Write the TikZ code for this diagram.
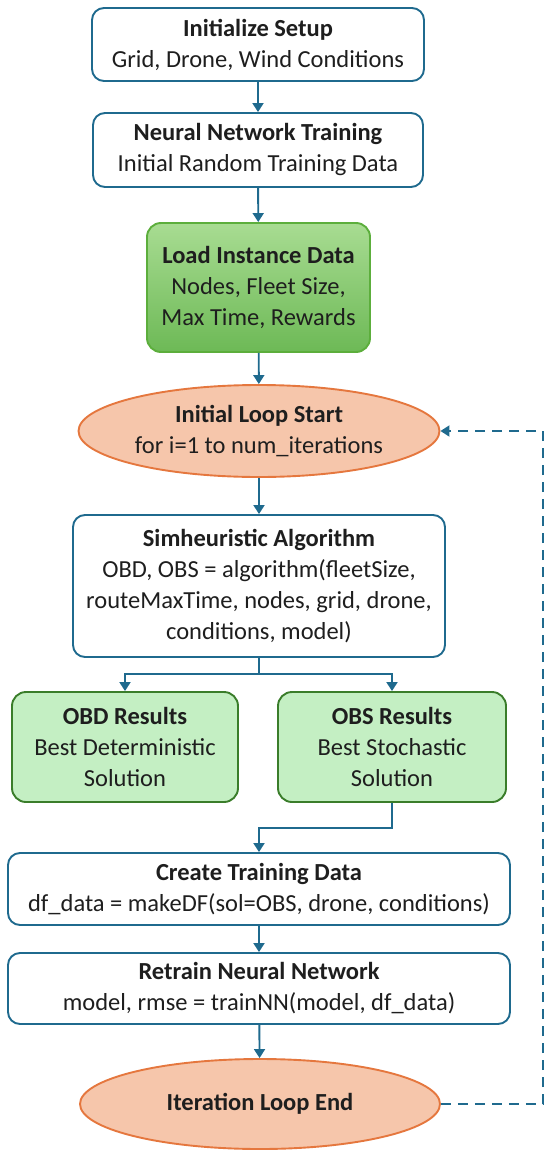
\documentclass[tikz,border=0pt]{standalone}
\usepackage{fontspec}
\setmainfont{Carlito}
\usetikzlibrary{shapes.geometric,arrows.meta}

\definecolor{flowblue}{HTML}{1F6A8E}
\definecolor{loadtop}{HTML}{A8DC92}
\definecolor{loadbot}{HTML}{6DB956}
\definecolor{loadline}{HTML}{5CAE3C}
\definecolor{resfill}{HTML}{C4EFC3}
\definecolor{resline}{HTML}{3A7D2A}
\definecolor{loopfill}{HTML}{F6C6AB}
\definecolor{loopline}{HTML}{E5773E}
\definecolor{txt}{HTML}{1E1E1E}

\tikzset{
    boxfont/.style={font=\fontsize{24.5}{31}\selectfont, text=txt, align=center},
    stepbox/.style={boxfont, draw=flowblue, line width=1.9pt, rounded corners=12pt, fill=white, inner sep=0pt},
    loadbox/.style={boxfont, draw=loadline, line width=1.9pt, rounded corners=14pt, top color=loadtop, bottom color=loadbot, inner sep=0pt},
    resbox/.style={boxfont, draw=resline, line width=1.9pt, rounded corners=14pt, fill=resfill, inner sep=0pt},
    loopnode/.style={boxfont, ellipse, draw=loopline, line width=1.9pt, fill=loopfill, inner sep=0pt},
    flow/.style={draw=flowblue, line width=1.9pt, -{Triangle[length=9pt,width=11pt]}},
    backflow/.style={flow, dash pattern=on 10pt off 7pt},
}

\begin{document}
\begin{tikzpicture}[x=1pt,y=-1pt]
    \useasboundingbox (0,0) rectangle (550,1156);

    % main column
    \node[stepbox, minimum width=332pt, minimum height=73pt] (init) at (258,44.5)
        {\textbf{Initialize Setup}\\Grid, Drone, Wind Conditions};
    \node[stepbox, minimum width=330pt, minimum height=74pt] (nntrain) at (258,150)
        {\textbf{Neural Network Training}\\Initial Random Training Data};
    \node[loadbox, minimum width=223pt, minimum height=129pt] (load) at (258.5,287.5)
        {\textbf{Load Instance Data}\\Nodes, Fleet Size,\\Max Time, Rewards};
    \node[loopnode, minimum width=361pt, minimum height=92pt] (loopstart) at (259,431)
        {\textbf{Initial Loop Start}\\for i=1 to num\_iterations};
    \node[stepbox, minimum width=372pt, minimum height=142pt] (sim) at (259,586)
        {\textbf{Simheuristic Algorithm}\\OBD, OBS = algorithm(fleetSize,\\routeMaxTime, nodes, grid, drone,\\conditions, model)};

    % the two results
    \node[resbox, minimum width=226pt, minimum height=110pt] (obd) at (125,747)
        {\textbf{OBD Results}\\Best Deterministic\\Solution};
    \node[resbox, minimum width=228pt, minimum height=110pt] (obs) at (392,747)
        {\textbf{OBS Results}\\Best Stochastic\\Solution};

    \node[stepbox, minimum width=502pt, minimum height=72pt] (create) at (259,889)
        {\textbf{Create Training Data}\\df\_data = makeDF(sol=OBS, drone, conditions)};
    \node[stepbox, minimum width=502pt, minimum height=71pt] (retrain) at (259,988.5)
        {\textbf{Retrain Neural Network}\\model, rmse = trainNN(model, df\_data)};
    \node[loopnode, minimum width=360pt, minimum height=90pt] (loopend) at (260,1104)
        {\textbf{Iteration Loop End}};

    \coordinate (split) at (259,674);
    \coordinate (merge) at (259,828);
    \coordinate (back) at (543,760);

    \draw[flow] (init) -- (nntrain);
    \draw[flow] (nntrain) -- (load);
    \draw[flow] (load) -- (loopstart);
    \draw[flow] (loopstart) -- (sim);
    \draw[flow] (sim.south) -- (split) -| (obd.north);
    \draw[flow] (split) -| (obs.north);
    \draw[flow] (obs.south) |- (merge) -- (create.north);
    \draw[flow] (create) -- (retrain);
    \draw[flow] (retrain) -- (loopend);
    \draw[backflow] (loopend.east) -| (back) |- (loopstart.east);
\end{tikzpicture}
\end{document}
